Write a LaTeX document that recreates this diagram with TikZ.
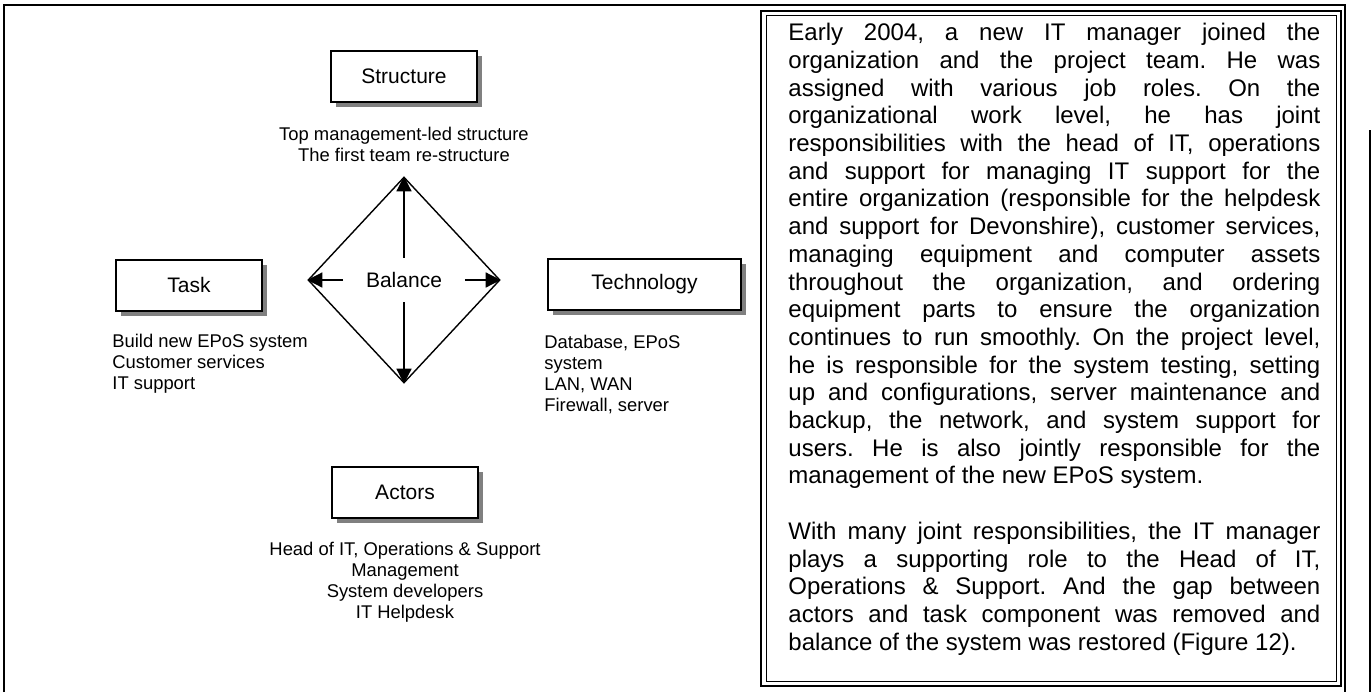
\documentclass[tikz,border=0pt]{standalone}
\usepackage{fontspec}
\setmainfont{Liberation Sans}
\usetikzlibrary{shapes.geometric, arrows.meta, positioning, shadows}
\frenchspacing

\begin{document}
\begin{tikzpicture}[
    x=0.5pt, y=-0.5pt,
    >={Triangle[length=7.5pt, width=7.5pt]},
    box/.style={draw, line width=1pt, fill=white, minimum height=25.5pt, inner sep=0pt, font=\fontsize{10.5pt}{12pt}\selectfont, drop shadow={shadow xshift=2.5pt, shadow yshift=-2.5pt, fill=black!50, opacity=1}},
    note/.style={inner sep=0pt, font=\fontsize{9.2pt}{10.5pt}\selectfont},
    flow/.style={->, line width=0.7pt}
  ]
    \useasboundingbox (0,0) rectangle (1372,692);
    % frame and text box
    \draw[line width=1.3pt] (4,692) -- (4,5) -- (1345,5) -- (1345,692);
    \draw[line width=1.3pt] (1370,130) -- (1370,692);
    \draw[line width=1.2pt] (761,11) rectangle (1341,686);
    \draw[line width=0.5pt] (766,15.5) rectangle (1336,681.5);

    \node[box, minimum width=73pt] (structure) at (404,76.5) {Structure};
    \node[box, minimum width=73pt] (task) at (189,285) {Task};
    \node[box, minimum width=96.5pt] (technology) at (644.5,284.5) {Technology};
    \node[box, minimum width=73pt] (actors) at (405,492.5) {Actors};

    \node[note, align=center] (structurenote) at (404,144) {Top management-led structure\\The first team re-structure};
    \node[note, align=left, anchor=west] (tasknote) at (112,364) {Build new EPoS system\\Customer services\\IT support};
    \node[note, align=left, anchor=west] (technote) at (544,374.5) {Database, EPoS\\system\\LAN, WAN\\Firewall, server};
    \node[note, align=center] (actorsnote) at (405,582.5) {Head of IT, Operations \& Support\\Management\\System developers\\IT Helpdesk};

    % balance diamond
    \node[draw, diamond, line width=0.7pt, minimum width=96pt, minimum height=103pt, inner sep=0pt] (diam) at (404,280) {};
    \node[minimum width=60.5pt, minimum height=22pt, inner sep=0pt, font=\fontsize{10.5pt}{12pt}\selectfont] (balance) at (404,280) {Balance};
    \draw[flow] (balance) -- (diam.north);
    \draw[flow] (balance) -- (diam.south);
    \draw[flow] (balance) -- (diam.west);
    \draw[flow] (balance) -- (diam.east);

    \node[anchor=north west, inner sep=0pt, text width=266pt, align=justify, font=\fontsize{12pt}{13.85pt}\selectfont] (story) at (788,23) {\hbadness=10000 Early 2004, a new IT manager joined the\linebreak
organization and the project team. He was\linebreak
assigned with various job roles. On the\linebreak
organizational work level, he has joint\linebreak
responsibilities with the head of IT, operations\linebreak
and support for managing IT support for the\linebreak
entire organization (responsible for the helpdesk\linebreak
and support for Devonshire), customer services,\linebreak
managing equipment and computer assets\linebreak
throughout the organization, and ordering\linebreak
equipment parts to ensure the organization\linebreak
continues to run smoothly. On the project level,\linebreak
he is responsible for the system testing, setting\linebreak
up and configurations, server maintenance and\linebreak
backup, the network, and system support for\linebreak
users. He is also jointly responsible for the\linebreak
management of the new EPoS system.\par\vspace{13.85pt}
With many joint responsibilities, the IT manager\linebreak
plays a supporting role to the Head of IT,\linebreak
Operations \& Support. And the gap between\linebreak
actors and task component was removed and\linebreak
balance of the system was restored (Figure 12).};
  \end{tikzpicture}
\end{document}
